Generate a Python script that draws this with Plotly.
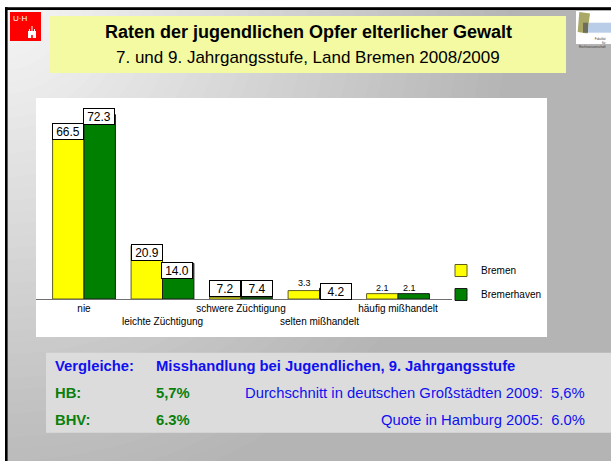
import plotly.graph_objects as go

# ---------------- data ----------------
categories = ["nie", "leichte Züchtigung", "schwere Züchtigung",
              "selten mißhandelt", "häufig mißhandelt"]
series_names = ["Bremen", "Bremerhaven"]
# bar heights as drawn in the picture
bremen_values = [66.5, 20.9, 0.72, 3.3, 2.1]
bremerhaven_values = [72.3, 14.0, 0.74, 4.2, 2.1]
# value labels as printed in the picture
bremen_labels = ["66.5", "20.9", "7.2", "3.3", "2.1"]
bremerhaven_labels = ["72.3", "14.0", "7.4", "4.2", "2.1"]
boxed_bremen = [True, True, True, False, False]
boxed_bremerhaven = [True, True, True, True, False]

title_line1 = "Raten der jugendlichen Opfer elterlicher Gewalt"
title_line2 = "7. und 9. Jahrgangsstufe, Land Bremen 2008/2009"
info_head = ["Vergleiche:", "Misshandlung bei Jugendlichen, 9. Jahrgangsstufe"]
info_rows = [["HB:", "5,7%", "Durchschnitt in deutschen Großstädten 2009:  5,6%"],
             ["BHV:", "6.3%", "Quote in Hamburg 2005:  6.0%"]]

# ---------------- styling / layout helpers ----------------
W, H = 611, 461
FONT = "Liberation Sans, Arial, Helvetica, sans-serif"
YELLOW, GREEN = "#FFFF00", "#008000"
BLUE_TXT, GREEN_TXT = "#1010F0", "#0B7F0B"


def px(x):
    return x / W


def py(y):
    return 1 - y / H


def path(points):
    return "M" + " L".join(f"{px(x):.5f},{py(y):.5f}" for x, y in points) + " Z"


def rect(x0, y0, x1, y1, color, line=None, lw=0):
    return dict(type="rect", xref="paper", yref="paper", x0=px(x0), x1=px(x1),
                y0=py(y1), y1=py(y0), fillcolor=color, layer="below",
                line=dict(color=line or color, width=lw))


# label offsets (pixels: right, down) of label centre relative to bar top
bremen_shift = [(0, 2.3), (0, 7), (0, -8.7), (1, -8), (0, -6)]
bremerhaven_shift = [(-1, 1.6), (-1, 6.7), (0, -8.6), (1, 3.7), (-4, -6)]

fig = go.Figure()
xs = list(range(len(categories)))
fig.add_trace(go.Bar(x=xs, y=bremen_values, name=series_names[0],
                     marker=dict(color=YELLOW, line=dict(color="#5E5E20", width=1)),
                     legendgroup="a", cliponaxis=False, hoverinfo="skip"))
fig.add_trace(go.Bar(x=xs, y=bremerhaven_values, name=series_names[1],
                     marker=dict(color=GREEN, line=dict(color="#1A1A1A", width=1)),
                     legendgroup="b", cliponaxis=False, hoverinfo="skip"))

# scales
x_left_px, x_right_px = 36, 452
base_px, top_px = 299, 110
unit_px = 78.5
first_center = 84
y_unit_px = 2.55
x_range = [(x_left_px - first_center) / unit_px, (x_right_px - first_center) / unit_px]
y_range = [0, (base_px - top_px) / y_unit_px]

annotations = []
for vals, labs, boxed, shifts, off in [
        (bremen_values, bremen_labels, boxed_bremen, bremen_shift, -0.2),
        (bremerhaven_values, bremerhaven_labels, boxed_bremerhaven, bremerhaven_shift, 0.2)]:
    for i, (v, t, b, s) in enumerate(zip(vals, labs, boxed, shifts)):
        a = dict(x=i + off, y=v, xref="x", yref="y", text=t, showarrow=False,
                 xanchor="center", yanchor="middle", xshift=s[0], yshift=-s[1])
        if b:
            a.update(font=dict(family=FONT, size=12, color="#000"), bgcolor="#FFFFFF",
                     bordercolor="#000000", borderwidth=1, borderpad=1, width=28, height=13)
        else:
            a.update(font=dict(family=FONT, size=9, color="#000"))
        annotations.append(a)

# title texts
annotations.append(dict(x=px(308), y=py(32), xref="paper", yref="paper", showarrow=False,
                        text=f"<b>{title_line1}</b>", xanchor="center", yanchor="middle",
                        font=dict(family=FONT, size=18, color="#000")))
annotations.append(dict(x=px(308), y=py(57), xref="paper", yref="paper", showarrow=False,
                        text=title_line2, xanchor="center", yanchor="middle",
                        font=dict(family=FONT, size=17, color="#000")))

# info box texts
INFO_FS = 14.8
annotations.append(dict(x=px(53), y=py(366), xref="paper", yref="paper", showarrow=False,
                        text=f"<b>{info_head[0]}</b>", xanchor="left", yanchor="middle",
                        font=dict(family=FONT, size=INFO_FS, color=BLUE_TXT)))
annotations.append(dict(x=px(154), y=py(366), xref="paper", yref="paper", showarrow=False,
                        text=f"<b>{info_head[1]}</b>", xanchor="left", yanchor="middle",
                        font=dict(family=FONT, size=INFO_FS, color=BLUE_TXT)))
for row, yy in zip(info_rows, [393, 420]):
    annotations.append(dict(x=px(53), y=py(yy), xref="paper", yref="paper", showarrow=False,
                            text=f"<b>{row[0]}</b>", xanchor="left", yanchor="middle",
                            font=dict(family=FONT, size=INFO_FS, color=GREEN_TXT)))
    annotations.append(dict(x=px(154), y=py(yy), xref="paper", yref="paper", showarrow=False,
                            text=f"<b>{row[1]}</b>", xanchor="left", yanchor="middle",
                            font=dict(family=FONT, size=INFO_FS, color=GREEN_TXT)))
    annotations.append(dict(x=px(587), y=py(yy), xref="paper", yref="paper", showarrow=False,
                            text=row[2], xanchor="right", yanchor="middle",
                            font=dict(family=FONT, size=INFO_FS, color=BLUE_TXT)))

# logos text
annotations.append(dict(x=px(11), y=py(12), xref="paper", yref="paper", showarrow=False,
                        text="U·H", xanchor="left", yanchor="top",
                        font=dict(family=FONT, size=8, color="#FFFFFF")))
annotations.append(dict(x=px(608), y=py(34.5), xref="paper", yref="paper", showarrow=False,
                        text="Fakultät<br>für<br>Rechtswissenschaft", xanchor="right",
                        yanchor="top", align="right",
                        font=dict(family=FONT, size=3, color="#333")))

# radial background gradient from the top-left corner (concentric circles)
shapes = []
n_steps = 44
r_max = 520.0
for k in range(n_steps, 0, -1):
    r = r_max * k / n_steps if k < n_steps else 1200.0
    g = int(round(248 - 68 * min(r, r_max) / r_max))
    shapes.append(dict(type="circle", xref="paper", yref="paper", layer="below",
                       x0=px(-r), x1=px(r), y0=py(r), y1=py(-r),
                       fillcolor=f"rgb({g},{g},{g})", line=dict(width=0)))
shapes.append(dict(type="circle", xref="paper", yref="paper", layer="below",
                   x0=px(-6), x1=px(6), y0=py(6), y1=py(-6),
                   fillcolor="rgb(248,248,248)", line=dict(width=0)))

shapes += [
    # frame
    rect(0, 0, W, 7.3, "#FFFFFF"),
    rect(0, 0, 5, H, "#FFFFFF"),
    rect(5, 7.3, W, 10, "#000000"),
    rect(5, 7.3, 7.6, H, "#000000"),
    # UH logo
    rect(10, 12, 41, 41, "#FF0000"),
    dict(type="path", xref="paper", yref="paper", layer="below", fillcolor="#FFFFFF",
         line=dict(width=0),
         path=path([(28, 38), (28, 31), (29, 31), (29, 29), (30, 29), (30, 31), (31.5, 31),
                    (31.5, 26), (32.5, 26), (32.5, 31), (34, 31), (34, 29), (35, 29),
                    (35, 31), (36, 31), (36, 38)])),
    rect(31.2, 35, 32.8, 38, "#FF0000"),
    # right logo
    rect(576, 11, W, 44, "#FFFFFF"),
    rect(583, 22.7, W, 32.7, "#B9CDE8"),
    dict(type="path", xref="paper", yref="paper", layer="below", fillcolor="#A9A866",
         line=dict(width=0),
         path=path([(579.3, 12), (590, 13.5), (587.3, 33.5), (577.7, 32)])),
    rect(583, 22.7, 588, 32.7, "#6E6E5A"),
    # title box
    rect(50, 16, 566, 73, "#F3FAA2"),
    # plot box
    rect(36, 98, 547, 337, "#FFFFFF"),
    # info box
    rect(46, 352.7, W, 432.7, "#DCDCDC"),
]

ticktext = [("<br>" + c) if i % 2 else c for i, c in enumerate(categories)]

fig.update_layout(
    width=W, height=H, autosize=False,
    margin=dict(l=0, r=0, t=0, b=0, pad=0),
    paper_bgcolor="#B4B4B4", plot_bgcolor="rgba(0,0,0,0)",
    barmode="group", bargap=0.2, bargroupgap=0,
    font=dict(family=FONT, size=10, color="#000"),
    shapes=shapes,
    annotations=annotations,
    showlegend=True,
    legend=dict(x=px(441), y=py(256), xanchor="left", yanchor="top",
                bgcolor="rgba(0,0,0,0)", borderwidth=0, tracegroupgap=5,
                font=dict(family=FONT, size=10, color="#000"), traceorder="grouped"),
    xaxis=dict(domain=[px(x_left_px), px(x_right_px)], range=x_range,
               tickvals=xs, ticktext=ticktext, tickangle=0, automargin=False,
               showgrid=False, zeroline=False,
               showline=True, linecolor="#707070", linewidth=1, ticks="",
               tickfont=dict(family=FONT, size=10, color="#000"), fixedrange=True),
    yaxis=dict(domain=[py(base_px), py(top_px)], range=y_range, visible=False,
               automargin=False, showgrid=False, zeroline=False, fixedrange=True),
)

fig.write_html(
    "out.html",
    config={"displayModeBar": False},
    post_script="document.body.style.margin='0';document.body.style.padding='0';"
                "document.body.style.overflow='hidden';"
                "document.body.style.background='#B4B4B4';"
                "document.documentElement.style.overflow='hidden';",
)
